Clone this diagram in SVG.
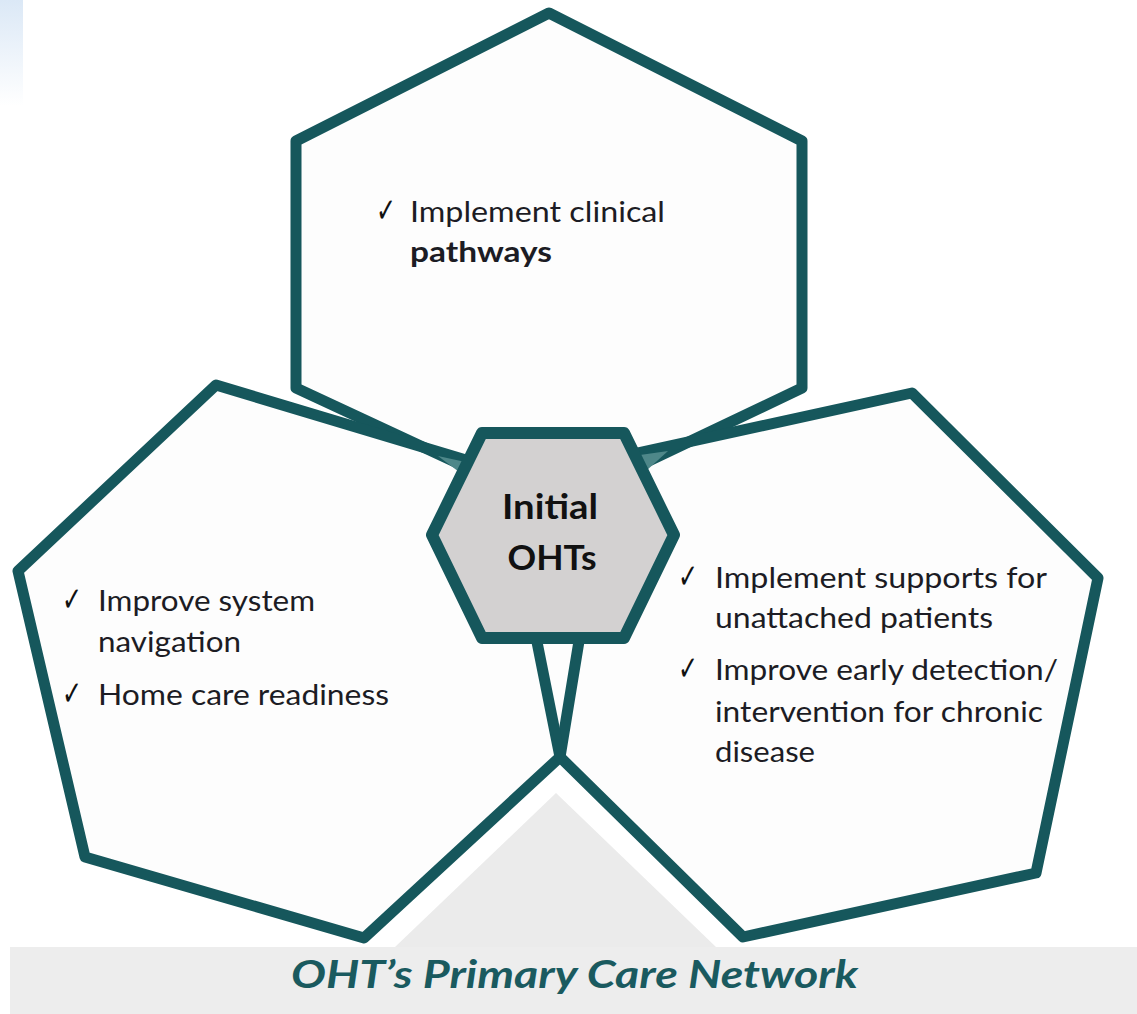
<svg xmlns="http://www.w3.org/2000/svg" width="1137" height="1014" viewBox="0 0 1137 1014">
  <defs>
    <linearGradient id="blueBar" x1="0" y1="0" x2="0" y2="1">
      <stop offset="0" stop-color="#dbe8f6"/>
      <stop offset="1" stop-color="#ffffff"/>
    </linearGradient>
    <style>
      .hex-fill { fill: #fdfdfd; stroke: none; }
      .hex-line { fill: none; stroke: #16575c; stroke-width: 11; stroke-linejoin: round; }
      .center { fill: #d3d1d1; stroke: #16575c; stroke-width: 12; stroke-linejoin: round; }
      .wedge { fill: #4e8789; }
      .body { font-family: Lato, "Open Sans", "DejaVu Sans", sans-serif; font-size: 29px; fill: #1c1c24; }
      .check { font-family: "DejaVu Sans", sans-serif; font-size: 34px; fill: #111111; }
      .title { font-family: Lato, "Open Sans", "DejaVu Sans", sans-serif; font-size: 35px; font-weight: bold; fill: #111111; }
      .banner { font-family: Lato, "Open Sans", "DejaVu Sans", sans-serif; font-size: 39px; font-weight: bold; font-style: italic; fill: #1a5a5f; }
    </style>
  </defs>

  <rect x="0" y="0" width="1137" height="1014" fill="#ffffff"/>
  <rect x="0" y="0" width="23" height="106" fill="url(#blueBar)"/>

  <!-- background base band and triangle -->
  <g id="base">
    <rect x="10" y="947" width="1127" height="67" fill="#ededed"/>
    <polygon points="556,793 395,947 716,947" fill="#ebebeb"/>
    <text class="banner" x="291" y="988" textLength="567" lengthAdjust="spacingAndGlyphs">OHT’s Primary Care Network</text>
  </g>

  <!-- outer hexagon nodes (fills + texts) -->
  <g id="node-top">
    <polygon class="hex-fill" points="549,13 802,141 802,388 552,507 296,388 296,141"/>
    <text class="check" x="376" y="222" textLength="20" lengthAdjust="spacingAndGlyphs">✓</text>
    <text class="body" x="410" y="222" textLength="255" lengthAdjust="spacingAndGlyphs">Implement clinical</text>
    <text class="body" x="410" y="262" font-weight="bold" textLength="142" lengthAdjust="spacingAndGlyphs">pathways</text>
  </g>
  <g id="node-left">
    <polygon class="hex-fill" points="216,385 18,571 85,857 364,938 560,757 602,501"/>
    <text class="check" x="62" y="611" textLength="20" lengthAdjust="spacingAndGlyphs">✓</text>
    <text class="body" x="98" y="611" textLength="217" lengthAdjust="spacingAndGlyphs">Improve system</text>
    <text class="body" x="98" y="652" textLength="143" lengthAdjust="spacingAndGlyphs">navigation</text>
    <text class="check" x="62" y="705" textLength="20" lengthAdjust="spacingAndGlyphs">✓</text>
    <text class="body" x="98" y="705" textLength="291" lengthAdjust="spacingAndGlyphs">Home care readiness</text>
  </g>
  <g id="node-right">
    <polygon class="hex-fill" points="912,393 1098,578 1036,873 743,937 560,757 505,482"/>
    <text class="check" x="678" y="588" textLength="20" lengthAdjust="spacingAndGlyphs">✓</text>
    <text class="body" x="715" y="588" textLength="332" lengthAdjust="spacingAndGlyphs">Implement supports for</text>
    <text class="body" x="715" y="628" textLength="278" lengthAdjust="spacingAndGlyphs">unattached patients</text>
    <text class="check" x="678" y="680" textLength="20" lengthAdjust="spacingAndGlyphs">✓</text>
    <text class="body" x="715" y="680" textLength="343" lengthAdjust="spacingAndGlyphs">Improve early detection/</text>
    <text class="body" x="715" y="722" textLength="328" lengthAdjust="spacingAndGlyphs">intervention for chronic</text>
    <text class="body" x="715" y="762" textLength="100" lengthAdjust="spacingAndGlyphs">disease</text>
  </g>

  <!-- connectors: the converging hexagon outlines -->
  <g id="connectors">
    <polygon class="hex-line" points="549,13 802,141 802,388 552,507 296,388 296,141"/>
    <polygon class="hex-line" points="216,385 18,571 85,857 364,938 560,757 602,501"/>
    <polygon class="hex-line" points="912,393 1098,578 1036,873 743,937 560,757 505,482"/>
    <polygon class="wedge" points="438,456 470,463 463,475"/>
    <polygon class="wedge" points="640,455 668,451 646,471"/>
  </g>

  <!-- central node -->
  <g id="node-center">
    <polygon class="center" points="482,433 624,433 674,535 624,638 482,638 432,535"/>
    <text class="title" x="550" y="519" text-anchor="middle" textLength="96" lengthAdjust="spacingAndGlyphs">Initial</text>
    <text class="title" x="552" y="570" text-anchor="middle" textLength="89" lengthAdjust="spacingAndGlyphs">OHTs</text>
  </g>
</svg>
